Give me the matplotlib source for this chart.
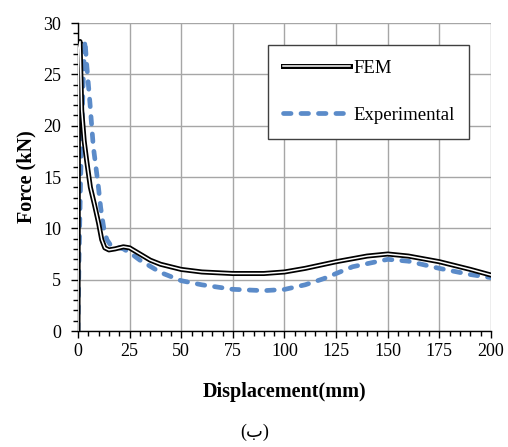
import matplotlib
matplotlib.use("Agg")
from matplotlib import pyplot as plt
import matplotlib.patheffects as pe
from matplotlib.ticker import MultipleLocator

# FEM curve
fem_x = [0, 0.3, 1, 1.8, 3, 4.2, 6, 8, 10, 11.5, 13, 15, 18, 22, 25, 30, 35, 40,
         50, 60, 75, 90, 100, 110, 125, 140, 150, 160, 175, 190, 200]
fem_y = [0, 27.5, 28.2, 21.5, 18.5, 16.6, 14.0, 12.3, 10.5, 8.9, 8.1, 7.9, 8.0, 8.2,
         8.1, 7.5, 6.9, 6.5, 6.0, 5.75, 5.6, 5.6, 5.75, 6.1, 6.75, 7.3, 7.5, 7.3,
         6.75, 6.0, 5.45]

# Experimental curve
exp_x = [0, 0.5, 1.3, 2, 2.6, 3.4, 4.2, 5.8, 7.4, 9.8, 11, 12.5, 14, 16, 18, 22,
         26, 30, 40, 50, 60, 75, 90, 100, 110, 119, 133, 150, 160, 175, 190, 200]
exp_y = [0, 7, 15, 20.5, 24.8, 28.3, 26, 22.2, 18, 14.2, 12, 10, 8.9, 8.3, 8.2, 8.0,
         7.5, 6.9, 5.7, 4.9, 4.5, 4.06, 3.93, 4.05, 4.5, 5.1, 6.26, 6.98, 6.8, 6.1,
         5.5, 5.2]

x_ticks = [0, 25, 50, 75, 100, 125, 150, 175, 200]
y_ticks = [0, 5, 10, 15, 20, 25, 30]

plt.rcParams['font.family'] = ['Liberation Serif', 'DejaVu Sans']

fig = plt.figure(figsize=(5.08, 4.47), dpi=100)
ax = fig.add_axes([0.1535, 0.2595, 0.813, 0.689])

ax.plot(fem_x, fem_y, color='white', lw=1.1, label='FEM', zorder=4,
        path_effects=[pe.Stroke(linewidth=3.6, foreground='black'), pe.Normal()])
ax.plot(exp_x, exp_y, color='#5B8BC9', lw=3.4, label='Experimental', zorder=3,
        dashes=(1.6, 2.1), dash_capstyle='round')

ax.set_xlim(0, 200)
ax.set_ylim(0, 30)
ax.set_xticks(x_ticks)
ax.set_yticks(y_ticks)
ax.xaxis.set_minor_locator(MultipleLocator(5))
ax.yaxis.set_minor_locator(MultipleLocator(1))
ax.tick_params(which='major', direction='out', length=5, width=1, labelsize=13,
               color='black')
ax.tick_params(which='minor', direction='out', length=3.6, width=1, color='black')
ax.tick_params(axis='x', which='major', pad=3.5)
ax.tick_params(axis='y', which='major', pad=7)
ax.grid(True, which='major', color='#A6A6A6', lw=1)
ax.set_axisbelow(True)
for s in ['top', 'right']:
    ax.spines[s].set_visible(False)
for s in ['left', 'bottom']:
    ax.spines[s].set_color('black')
    ax.spines[s].set_linewidth(1)

ax.set_xlabel('Displacement(mm)', fontsize=14.5, fontweight='bold', labelpad=16)
ax.set_ylabel('Force (kN)', fontsize=14.5, fontweight='bold', labelpad=5)

leg = ax.legend(loc='upper left', bbox_to_anchor=(0.5276, 0.899),
                bbox_transform=fig.transFigure, borderaxespad=0, fancybox=False,
                edgecolor='#404040', framealpha=1, fontsize=13.5, handlelength=3.6,
                labelspacing=1.6, borderpad=0.78, handletextpad=0.15)
leg.get_frame().set_linewidth(1)

fig.text(0.502, 0.033, '(ب)', ha='center', va='center', fontsize=13,
         family=['Liberation Serif', 'DejaVu Sans'])

fig.savefig('out.png', dpi=100)
